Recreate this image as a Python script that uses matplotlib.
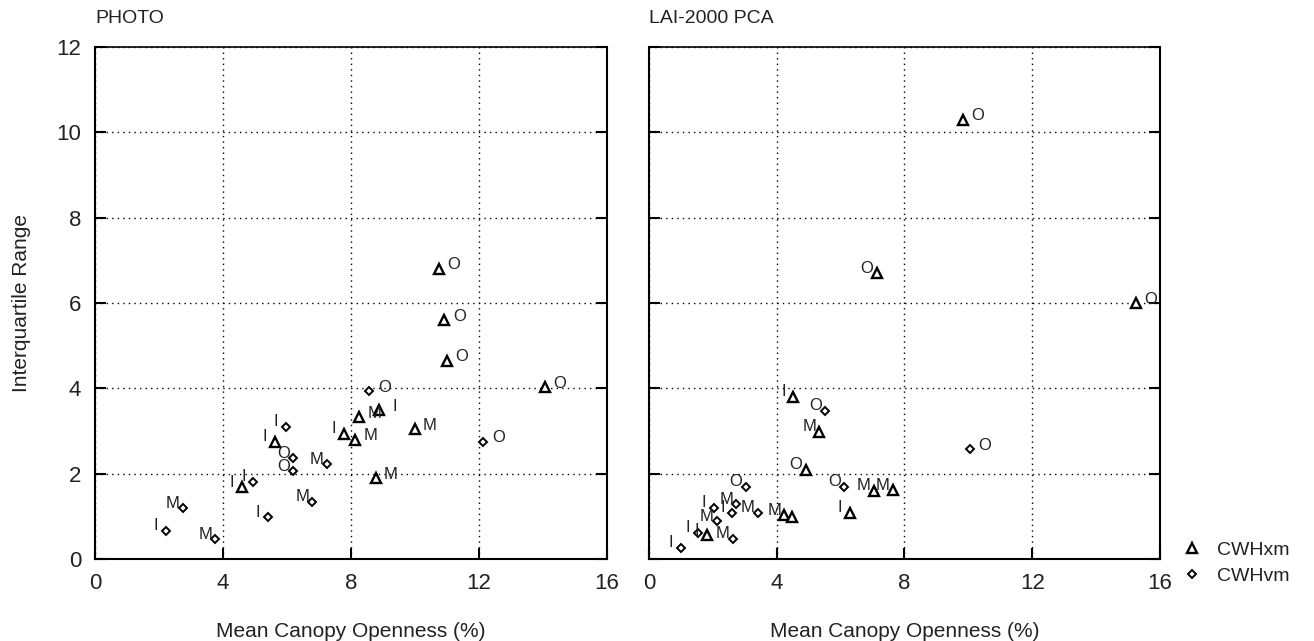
import matplotlib
matplotlib.use("Agg")
import matplotlib.pyplot as plt
from matplotlib.lines import Line2D

plt.rcParams['font.family'] = ['Liberation Sans', 'DejaVu Sans']

# ---- data: PHOTO panel ----
photo_xm_x = [10.74, 10.92, 10.99, 14.06, 8.89, 8.26, 10.00, 7.78, 8.13, 5.62, 8.78, 4.58]
photo_xm_y = [6.80, 5.60, 4.65, 4.02, 3.49, 3.32, 3.04, 2.93, 2.80, 2.75, 1.89, 1.68]
photo_xm_lab = ['O', 'O', 'O', 'O', 'I', 'M', 'M', 'I', 'M', 'I', 'M', 'I']
photo_xm_side = ['r', 'r', 'r', 'r', 'r', 'r', 'r', 'l', 'r', 'l', 'r', 'l']

photo_vm_x = [8.57, 12.14, 5.97, 6.20, 6.20, 7.24, 4.95, 6.79, 5.40, 2.74, 2.22, 3.76]
photo_vm_y = [3.93, 2.75, 3.10, 2.36, 2.06, 2.22, 1.81, 1.34, 0.98, 1.19, 0.66, 0.46]
photo_vm_lab = ['O', 'O', 'I', 'O', 'O', 'M', 'I', 'M', 'I', 'M', 'I', 'M']
photo_vm_side = ['r', 'r', 'l', 'l', 'l', 'l', 'l', 'l', 'l', 'l', 'l', 'l']

# ---- data: LAI-2000 PCA panel ----
lai_xm_x = [4.52, 5.33, 4.91, 7.03, 7.64, 6.30, 4.24, 4.48, 1.81, 9.83, 7.14, 15.24]
lai_xm_y = [3.80, 2.98, 2.09, 1.60, 1.61, 1.09, 1.03, 0.99, 0.56, 10.30, 6.70, 5.99]
lai_xm_lab = ['I', 'M', 'O', 'M', 'M', 'I', 'M', '', 'I', 'O', 'O', 'O']
lai_xm_side = ['l', 'l', 'l', 'l', 'l', 'l', 'l', 'l', 'l', 'r', 'l', 'r']

lai_vm_x = [5.52, 3.03, 6.12, 2.73, 2.02, 2.61, 3.41, 2.13, 1.54, 2.62, 1.01, 10.04]
lai_vm_y = [3.47, 1.69, 1.69, 1.28, 1.20, 1.08, 1.08, 0.88, 0.61, 0.48, 0.26, 2.57]
lai_vm_lab = ['O', 'O', 'O', 'M', 'I', 'I', 'M', 'M', 'I', 'M', 'I', 'O']
lai_vm_side = ['l', 'l', 'l', 'l', 'l', 'l', 'l', 'l', 'l', 'l', 'l', 'r']

panel_titles = ['PHOTO', 'LAI-2000 PCA']
x_ticks = [0, 4, 8, 12, 16]
y_ticks = [0, 2, 4, 6, 8, 10, 12]
series_names = ['CWHxm', 'CWHvm']

fig = plt.figure(figsize=(13.14, 6.41), dpi=100)
ax1 = fig.add_axes([0.0723, 0.1279, 0.3896, 0.7988])
ax2 = fig.add_axes([0.4939, 0.1279, 0.3889, 0.7988])

tri_kw = dict(marker='^', markersize=6.5, markerfacecolor='white',
              markeredgecolor='black', markeredgewidth=1.7, linestyle='none')
dia_kw = dict(marker='D', markersize=4.2, markerfacecolor='white',
              markeredgecolor='black', markeredgewidth=1.4, linestyle='none')

TEXT_COL = '#222222'


def label_points(ax, xs, ys, labs, sides):
    for x, y, t, s in zip(xs, ys, labs, sides):
        if not t:
            continue
        off = (15, 4) if s == 'r' else (-10, 5)
        ax.annotate(t, (x, y), xytext=off, textcoords='offset pixels',
                    ha='center', va='center', fontsize=12, color=TEXT_COL)


panels = [
    (ax1, photo_xm_x, photo_xm_y, photo_xm_lab, photo_xm_side,
     photo_vm_x, photo_vm_y, photo_vm_lab, photo_vm_side),
    (ax2, lai_xm_x, lai_xm_y, lai_xm_lab, lai_xm_side,
     lai_vm_x, lai_vm_y, lai_vm_lab, lai_vm_side),
]

for i, (ax, xx, xy, xl, xs, vx, vy, vl, vs) in enumerate(panels):
    ax.plot(xx, xy, **tri_kw, zorder=3)
    ax.plot(vx, vy, **dia_kw, zorder=3)
    label_points(ax, xx, xy, xl, xs)
    label_points(ax, vx, vy, vl, vs)
    ax.set_xlim(0, 16)
    ax.set_ylim(0, 12)
    ax.set_xticks(x_ticks)
    ax.set_yticks(y_ticks)
    ax.grid(True, linestyle=(0, (1, 3)), color='black', linewidth=1.0)
    ax.tick_params(direction='in', length=8, width=1.5, top=False, right=True,
                   labelsize=16, colors='black', labelcolor=TEXT_COL, pad=10)
    for sp in ax.spines.values():
        sp.set_linewidth(1.5)
    ax.spines['top'].set_linewidth(1.2)
    ax.set_xlabel('Mean Canopy Openness (%)', fontsize=15, labelpad=20,
                  color=TEXT_COL)
    ax.set_title(panel_titles[i], loc='left', fontsize=14, pad=17,
                 color=TEXT_COL)
    ax.set_axisbelow(True)

ax1.set_ylabel('Interquartile Range', fontsize=15, labelpad=18, color=TEXT_COL)
ax2.tick_params(labelleft=False)

handles = [Line2D([], [], **tri_kw), Line2D([], [], **dia_kw)]
fig.legend(handles, series_names, loc='lower left',
           bbox_to_anchor=(0.885, 0.06), frameon=False, fontsize=14,
           handlelength=1.2, handletextpad=0.7, labelspacing=0.45,
           labelcolor=TEXT_COL)

fig.savefig('out.png', dpi=100)
